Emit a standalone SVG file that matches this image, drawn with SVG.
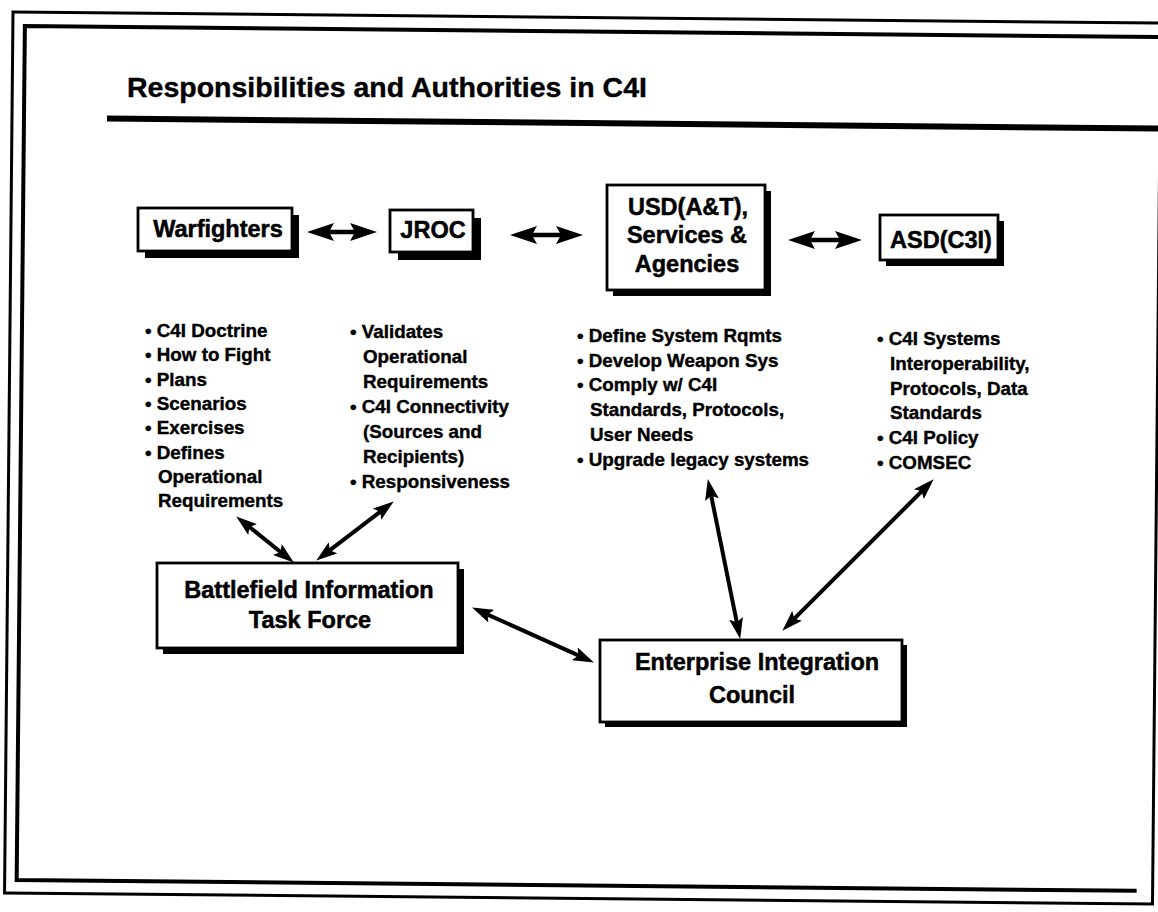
<svg xmlns="http://www.w3.org/2000/svg" width="1158" height="912" viewBox="0 0 1158 912">
<style>
.box{fill:#fff;stroke:#000;stroke-width:2.8}
.shd{fill:#000}
.t{font-family:"Liberation Sans",Arial,Helvetica,sans-serif;font-weight:bold;fill:#000;stroke:#000;stroke-width:0.4}
.n{font-size:23.5px;text-anchor:middle;stroke-width:0.5}
.b{font-size:18.8px}
.h{stroke:#000;stroke-width:4.5;fill:none}
.d{stroke:#000;stroke-width:4;fill:none}
.frame{fill:none;stroke:#000}
</style>
<defs>
<marker id="ah" viewBox="0 0 27 18" markerWidth="27" markerHeight="18" refX="14" refY="9" orient="auto-start-reverse" markerUnits="userSpaceOnUse">
<path d="M0,0 L27,9 L0,18 L5,9 Z" fill="#000"/>
</marker>
<marker id="ad" viewBox="0 0 21 14" markerWidth="21" markerHeight="14" refX="10" refY="7" orient="auto-start-reverse" markerUnits="userSpaceOnUse">
<path d="M0,0 L21,7 L0,14 L4,7 Z" fill="#000"/>
</marker>
</defs>
<rect width="1158" height="912" fill="#fff"/>
<g id="frame" transform="rotate(0.55 13 12)">
<rect class="frame" x="13" y="12" width="1148" height="881" stroke-width="3"/>
<path class="frame" d="M1175,26 H25 V880 H1145" stroke-width="4"/>
</g>
<g id="title">
<text class="t" x="127" y="97" font-size="28.5" stroke-width="0.6">Responsibilities and Authorities in C4I</text>
<line x1="107" y1="118.5" x2="1158" y2="128.5" stroke="#000" stroke-width="6"/>
</g>
<g id="warfighters">
<rect class="shd" x="145" y="215" width="154" height="43"/>
<rect class="box" x="138" y="208" width="154" height="43"/>
<text class="t n" x="218" y="237">Warfighters</text>
</g>
<g id="jroc">
<rect class="shd" x="398" y="218" width="83" height="42"/>
<rect class="box" x="390" y="210" width="83" height="42"/>
<text class="t n" x="433" y="238">JROC</text>
</g>
<g id="usd">
<rect class="shd" x="613" y="191" width="158" height="105"/>
<rect class="box" x="607" y="185" width="158" height="105"/>
<text class="t n" x="688" y="215" font-size="24.5">USD(A&amp;T),</text>
<text class="t n" x="687" y="243" font-size="24.5">Services &amp;</text>
<text class="t n" x="687" y="272" font-size="24.5">Agencies</text>
</g>
<g id="asd">
<rect class="shd" x="886" y="221" width="118" height="45"/>
<rect class="box" x="880" y="215" width="118" height="45"/>
<text class="t n" x="941" y="248">ASD(C3I)</text>
</g>
<g id="bitf">
<rect class="shd" x="163" y="569" width="301" height="85"/>
<rect class="box" x="157" y="563" width="301" height="85"/>
<text class="t n" x="309" y="598" font-size="27.5">Battlefield Information</text>
<text class="t n" x="310" y="628" font-size="27.5">Task Force</text>
</g>
<g id="eic">
<rect class="shd" x="605" y="645" width="302" height="82"/>
<rect class="box" x="600" y="640" width="302" height="82"/>
<text class="t n" x="757" y="670" font-size="27">Enterprise Integration</text>
<text class="t n" x="752" y="703" font-size="27">Council</text>
</g>
<g id="warfighters-notes" class="t b">
<text x="145" y="337">• C4I Doctrine</text>
<text x="145" y="361.3">• How to Fight</text>
<text x="145" y="385.6">• Plans</text>
<text x="145" y="409.9">• Scenarios</text>
<text x="145" y="434.2">• Exercises</text>
<text x="145" y="458.5">• Defines</text>
<text x="158" y="482.8">Operational</text>
<text x="158" y="507.1">Requirements</text>
</g>
<g id="jroc-notes" class="t b">
<text x="350" y="338">• Validates</text>
<text x="363" y="363">Operational</text>
<text x="363" y="388">Requirements</text>
<text x="350" y="413">• C4I Connectivity</text>
<text x="363" y="438">(Sources and</text>
<text x="363" y="463">Recipients)</text>
<text x="350" y="488">• Responsiveness</text>
</g>
<g id="usd-notes" class="t b">
<text x="577" y="342">• Define System Rqmts</text>
<text x="577" y="366.7">• Develop Weapon Sys</text>
<text x="577" y="391.4">• Comply w/ C4I</text>
<text x="590" y="416.1">Standards, Protocols,</text>
<text x="590" y="440.8">User Needs</text>
<text x="577" y="465.5">• Upgrade legacy systems</text>
</g>
<g id="asd-notes" class="t b">
<text x="877" y="345">• C4I Systems</text>
<text x="890" y="369.8">Interoperability,</text>
<text x="890" y="394.6">Protocols, Data</text>
<text x="890" y="419.4">Standards</text>
<text x="877" y="444.2">• C4I Policy</text>
<text x="877" y="469">• COMSEC</text>
</g>
<g id="connectors">
<line class="h" x1="320" y1="232" x2="364" y2="232" marker-start="url(#ah)" marker-end="url(#ah)"/>
<line class="h" x1="523" y1="235" x2="570" y2="235" marker-start="url(#ah)" marker-end="url(#ah)"/>
<line class="h" x1="801" y1="240" x2="849" y2="240" marker-start="url(#ah)" marker-end="url(#ah)"/>
<line class="d" x1="244.8" y1="523.3" x2="285.2" y2="555.7" marker-start="url(#ad)" marker-end="url(#ad)"/>
<line class="d" x1="385" y1="508.1" x2="325" y2="553.9" marker-start="url(#ad)" marker-end="url(#ad)"/>
<line class="d" x1="482.1" y1="612.1" x2="583.9" y2="657.9" marker-start="url(#ad)" marker-end="url(#ad)"/>
<line class="d" x1="710" y1="489.8" x2="738" y2="628.2" marker-start="url(#ad)" marker-end="url(#ad)"/>
<line class="d" x1="925.9" y1="487.1" x2="790.1" y2="622.9" marker-start="url(#ad)" marker-end="url(#ad)"/>
</g>
</svg>
